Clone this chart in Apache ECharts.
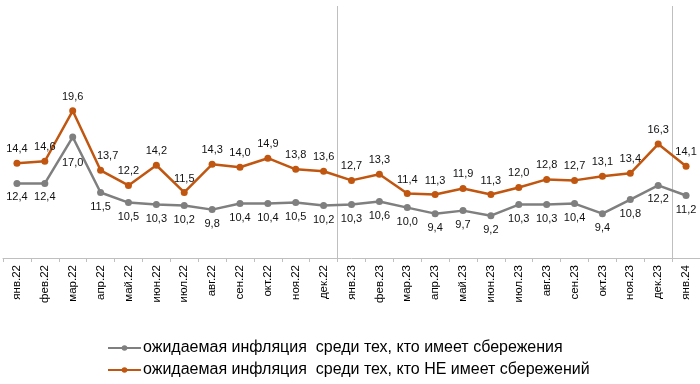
<!DOCTYPE html>
<html>
<head>
<meta charset="utf-8">
<script src="https://cdn.jsdelivr.net/npm/echarts@6/dist/echarts.min.js"></script>
<style>html,body{margin:0;padding:0;background:#fff}#c{width:700px;height:384px}</style>
</head>
<body>
<div id="c"></div>
<script>
var categories = ['янв.22','фев.22','мар.22','апр.22','май.22','июн.22','июл.22','авг.22','сен.22','окт.22','ноя.22','дек.22',
  'янв.23','фев.23','мар.23','апр.23','май.23','июн.23','июл.23','авг.23','сен.23','окт.23','ноя.23','дек.23','янв.24'];
var withSavings = [12.4,12.4,17.0,11.5,10.5,10.3,10.2,9.8,10.4,10.4,10.5,10.2,10.3,10.6,10.0,9.4,9.7,9.2,10.3,10.3,10.4,9.4,10.8,12.2,11.2];
var withoutSavings = [14.4,14.6,19.6,13.7,12.2,14.2,11.5,14.3,14.0,14.9,13.8,13.6,12.7,13.3,11.4,11.3,11.9,11.3,12.0,12.8,12.7,13.1,13.4,16.3,14.1];
var seriesNames = ['ожидаемая инфляция  среди тех, кто имеет сбережения','ожидаемая инфляция  среди тех, кто НЕ имеет сбережений'];

var FONT = 'Liberation Sans, Arial, sans-serif';
function fmt(p){ return p.value.toFixed(1).replace('.', ','); }

var grayData = withSavings.map(function(v,i){
  var d = {value: v};
  if (i === 2) d.label = {offset:[0,12]};
  return d;
});
var orangeData = withoutSavings.map(function(v,i){
  var d = {value: v};
  if (i === 3) d.label = {offset:[7,0]};
  return d;
});

function legendAt(name, top){
  return {
    left: 102, top: top, itemWidth: 33, itemHeight: 7, itemGap: 0,
    textStyle: {fontFamily: FONT, fontSize: 16, color: '#000', padding:[0,0,0,-3]},
    data: [name]
  };
}

var chart = echarts.init(document.getElementById('c'), null, {renderer:'canvas'});
chart.setOption({
  animation: false,
  grid: {left: 3, top: 6, width: 698, height: 252, containLabel: false},
  legend: [legendAt(seriesNames[0], 335), legendAt(seriesNames[1], 357)],
  xAxis: {
    type: 'category', data: categories, boundaryGap: true,
    axisLine: {lineStyle: {color: '#BFBFBF', width: 1}},
    axisTick: {show: true, length: 4, lineStyle: {color: '#BFBFBF'}},
    axisLabel: {rotate: 90, interval: 0, margin: 7, fontFamily: FONT, fontSize: 11.5, color: '#000'},
    splitLine: {show: true, interval: function(i){ return i === 12 || i === 24; }, lineStyle: {color: '#BFBFBF', width: 1}}
  },
  yAxis: {type: 'value', min: 5, max: 30, show: false, splitLine: {show: false}},
  series: [
    {
      name: seriesNames[0], type: 'line', data: grayData,
      symbol: 'circle', symbolSize: 7,
      lineStyle: {color: '#7F7F7F', width: 2.5}, itemStyle: {color: '#7F7F7F'},
      label: {show: true, position: 'bottom', distance: 5, formatter: fmt, fontFamily: FONT, fontSize: 11, color: '#111'}
    },
    {
      name: seriesNames[1], type: 'line', data: orangeData,
      symbol: 'circle', symbolSize: 7,
      lineStyle: {color: '#C0560F', width: 2.5}, itemStyle: {color: '#C0560F'},
      label: {show: true, position: 'top', distance: 5, formatter: fmt, fontFamily: FONT, fontSize: 11, color: '#111'}
    }
  ]
});
</script>
</body>
</html>
